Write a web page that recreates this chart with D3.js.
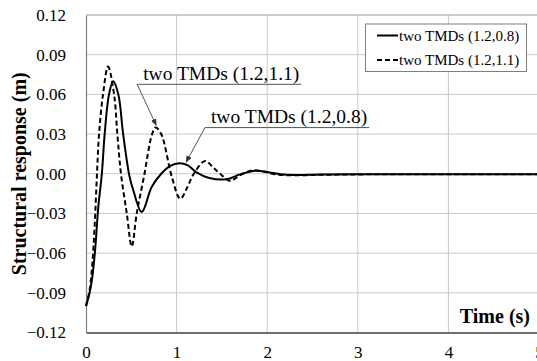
<!DOCTYPE html>
<html>
<head>
<meta charset="utf-8">
<script src="https://cdn.jsdelivr.net/npm/d3@7"></script>
<style>
  body { margin: 0; background: #fff; }
  svg { display: block; font-family: "Liberation Serif", "Times New Roman", serif; }
  .grid line { stroke: #c8c8c8; stroke-width: 1; }
</style>
</head>
<body>
<div id="chart"></div>
<script>
// time (s)
const timeA = [0, 0.04, 0.07, 0.10, 0.136, 0.175, 0.206, 0.254, 0.30, 0.357, 0.41, 0.48, 0.52, 0.615, 0.725, 0.83, 0.93, 1.03, 1.12, 1.22, 1.35, 1.55, 1.70, 1.87, 2.0, 2.15, 2.3, 2.6, 3, 4, 5];
// two TMDs (1.2,0.8) response (m)
const respA = [-0.100, -0.090, -0.078, -0.058, -0.025, 0.000, 0.030, 0.060, 0.070, 0.060, 0.030, -0.002, -0.012, -0.029, -0.010, 0.000, 0.006, 0.008, 0.0065, 0.001, -0.003, -0.0042, -0.0005, 0.0022, 0.0013, -0.0004, -0.0009, -0.0006, -0.0004, -0.0003, -0.0003];

const timeB = [0, 0.04, 0.07, 0.095, 0.12, 0.144, 0.188, 0.243, 0.31, 0.346, 0.386, 0.45, 0.505, 0.56, 0.64, 0.73, 0.77, 0.83, 0.95, 1.04, 1.12, 1.19, 1.315, 1.40, 1.48, 1.59, 1.66, 1.73, 1.85, 1.97, 2.1, 2.3, 2.6, 3, 4, 5];
// two TMDs (1.2,1.1) response (m)
const respB = [-0.100, -0.088, -0.068, -0.040, -0.002, 0.030, 0.060, 0.081, 0.060, 0.030, 0.000, -0.030, -0.055, -0.030, -0.002, 0.030, 0.035, 0.030, -0.003, -0.019, -0.010, 0.000, 0.0097, 0.005, 0.000, -0.0054, -0.003, 0.000, 0.0026, 0.0015, -0.0005, -0.0012, -0.0008, -0.0005, -0.0004, -0.0003];

const seriesNames = ['two TMDs (1.2,0.8)', 'two TMDs (1.2,1.1)'];
const xTicks = [0, 1, 2, 3, 4, 5];
const yTicks = [-0.12, -0.09, -0.06, -0.03, 0.00, 0.03, 0.06, 0.09, 0.12];

// callouts: label, underline start (t, y), arrow tip (t, y)
const calloutLabels = ['two TMDs (1.2,1.1)', 'two TMDs (1.2,0.8)'];
const calloutStart = [[0.565, 0.0676], [1.313, 0.0349]];
const calloutTip = [[0.775, 0.0366], [1.105, 0.0087]];

const width = 537, height = 361;
const margin = { top: 15, left: 86 };
const serif = '"Liberation Serif", "Times New Roman", serif';

const svg = d3.select('#chart').append('svg')
  .attr('width', width)
  .attr('height', height);

const x = d3.scaleLinear().domain([0, 5]).range([margin.left, 539]);
const y = d3.scaleLinear().domain([-0.12, 0.12]).range([332.5, margin.top]);

// Gridlines
const grid = svg.append('g').attr('class', 'grid');
grid.selectAll('.hg').data(yTicks.slice(1, -1)).enter().append('line')
  .attr('x1', x(0)).attr('x2', width)
  .attr('y1', d => y(d)).attr('y2', d => y(d));
grid.selectAll('.vg').data(xTicks.slice(1)).enter().append('line')
  .attr('x1', d => x(d)).attr('x2', d => x(d))
  .attr('y1', y(0.12)).attr('y2', y(-0.12));

// Plot border top
svg.append('line')
  .attr('x1', x(0)).attr('x2', width)
  .attr('y1', y(0.12)).attr('y2', y(0.12))
  .attr('stroke', '#9a9a9a').attr('stroke-width', 1);

// Y axis
const yAxis = svg.append('g')
  .attr('transform', `translate(${x(0)},0)`)
  .call(d3.axisLeft(y).tickValues(yTicks).tickFormat(d3.format('.2f')).tickSize(0).tickPadding(20))
  .attr('font-family', serif);
yAxis.select('.domain').attr('stroke', '#808080').attr('stroke-width', 1.2);
yAxis.selectAll('text').attr('font-size', 17).attr('fill', '#000');

// X axis
const xAxis = svg.append('g')
  .attr('transform', `translate(0,${y(-0.12)})`)
  .call(d3.axisBottom(x).tickValues(xTicks).tickFormat(d3.format('d')).tickSize(0).tickPadding(13))
  .attr('font-family', serif);
xAxis.select('.domain').attr('stroke', '#6e6e6e').attr('stroke-width', 2.2);
xAxis.selectAll('text').attr('font-size', 17).attr('fill', '#000');

// Axis titles
svg.append('text')
  .attr('transform', `translate(26,${y(0)}) rotate(-90)`)
  .attr('text-anchor', 'middle')
  .attr('font-size', 20).attr('font-weight', 'bold')
  .text('Structural response (m)');
svg.append('text')
  .attr('x', 530).attr('y', 323)
  .attr('text-anchor', 'end')
  .attr('font-size', 20).attr('font-weight', 'bold')
  .text('Time (s)');

// Lines
const line = d3.line()
  .x(d => x(d[0]))
  .y(d => y(d[1]))
  .curve(d3.curveCatmullRom.alpha(0.5));

const dataA = timeA.map((t, i) => [t, respA[i]]);
const dataB = timeB.map((t, i) => [t, respB[i]]);

svg.append('path')
  .datum(dataB)
  .attr('fill', 'none')
  .attr('stroke', '#000')
  .attr('stroke-width', 2)
  .attr('stroke-dasharray', '5,3')
  .attr('d', line);

svg.append('path')
  .datum(dataA)
  .attr('fill', 'none')
  .attr('stroke', '#000')
  .attr('stroke-width', 2)
  .attr('d', line);

// Callouts
const defs = svg.append('defs');
defs.append('marker')
  .attr('id', 'arrow')
  .attr('viewBox', '0 0 10 10')
  .attr('refX', 9).attr('refY', 5)
  .attr('markerWidth', 7).attr('markerHeight', 7)
  .attr('orient', 'auto')
  .append('path')
  .attr('d', 'M0,1 L10,5 L0,9 Z')
  .attr('fill', '#333');

calloutLabels.forEach((label, i) => {
  const sx = x(calloutStart[i][0]), sy = y(calloutStart[i][1]);
  const txt = svg.append('text')
    .attr('x', sx + 6).attr('y', sy - 4.5)
    .attr('font-size', 19.5)
    .text(label);
  const w = txt.node().getComputedTextLength();
  svg.append('line')
    .attr('x1', sx).attr('x2', sx + 6 + w + 2)
    .attr('y1', sy).attr('y2', sy)
    .attr('stroke', '#555').attr('stroke-width', 1);
  svg.append('line')
    .attr('x1', sx).attr('y1', sy)
    .attr('x2', x(calloutTip[i][0])).attr('y2', y(calloutTip[i][1]))
    .attr('stroke', '#555').attr('stroke-width', 1)
    .attr('marker-end', 'url(#arrow)');
});

// Legend
const legend = svg.append('g');
legend.append('rect')
  .attr('x', 365.5).attr('y', 24)
  .attr('width', 161).attr('height', 47.5)
  .attr('fill', '#fff')
  .attr('stroke', '#7f7f7f').attr('stroke-width', 1);

seriesNames.forEach((name, i) => {
  const ly = 35.5 + i * 24.5;
  legend.append('line')
    .attr('x1', 377).attr('x2', 398)
    .attr('y1', ly).attr('y2', ly)
    .attr('stroke', '#000').attr('stroke-width', 2)
    .attr('stroke-dasharray', i === 1 ? '5,3' : null);
  legend.append('text')
    .attr('x', 399).attr('y', ly)
    .attr('dy', '0.35em')
    .attr('font-size', 15)
    .text(name);
});
</script>
</body>
</html>
